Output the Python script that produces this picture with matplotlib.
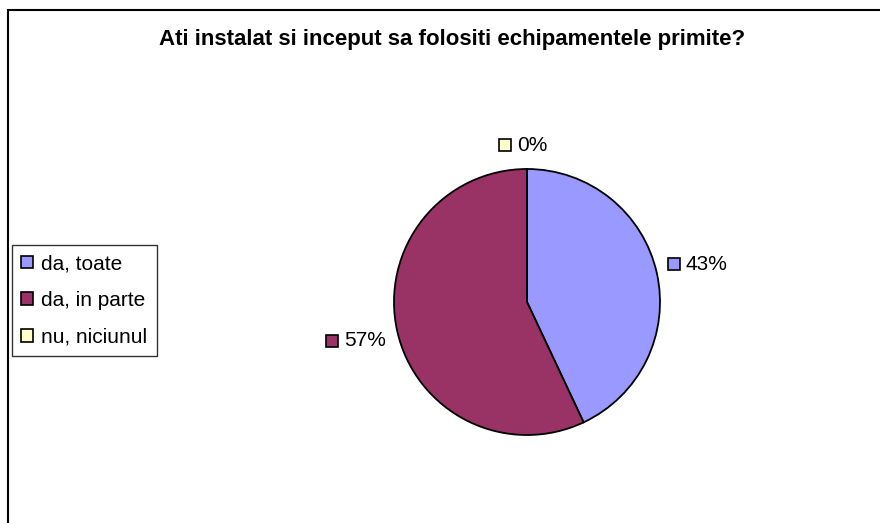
import numpy as np
import matplotlib.pyplot as plt
from matplotlib.patches import Patch, Rectangle

plt.rcParams['font.family'] = ['Liberation Sans', 'DejaVu Sans']

title = 'Ati instalat si inceput sa folositi echipamentele primite?'
categories = ['da, toate', 'da, in parte', 'nu, niciunul']
values = [43, 57, 0]
colors = ['#9999FF', '#993366', '#FFFFCC']
label_dist = [1.30, 1.33, 1.18]

W, H = 880, 523
fig = plt.figure(figsize=(W / 100, H / 100), dpi=100)

# outer chart border (clipped on right and bottom like the original)
fig.add_artist(Rectangle((8 / W, -0.1), 2, 1 - 10 / H + 0.1, transform=fig.transFigure,
                         fill=False, edgecolor='black', linewidth=1.5))

fig.text(452 / W, 1 - 40 / H, title, ha='center', va='center',
         fontsize=16, fontweight='bold')

# pie axes, centre (527, 302) px, radius 133 px
cx, cy, r = 527, 302, 133
ax = fig.add_axes([(cx - r) / W, (H - cy - r) / H, 2 * r / W, 2 * r / H])
wedges, _ = ax.pie(values, colors=colors, startangle=90, counterclock=False,
                   wedgeprops=dict(edgecolor='black', linewidth=1.3))
ax.set_xlim(-1, 1)
ax.set_ylim(-1, 1)
ax.set_aspect('equal')

# data labels with legend key squares
total = sum(values)
start = 90.0
for v, c, d in zip(values, colors, label_dist):
    sweep = v / total * 360
    mid = np.deg2rad(start - sweep / 2)
    start -= sweep
    x, y = d * np.cos(mid), d * np.sin(mid)
    ax.plot(x - 0.165, y, marker='s', markersize=8, markerfacecolor=c,
            markeredgecolor='black', markeredgewidth=1.2, clip_on=False)
    ax.text(x - 0.075, y, f'{v}%', ha='left', va='center', fontsize=15, clip_on=False)

handles = [Patch(facecolor=c, edgecolor='black', linewidth=1.2) for c in colors]
leg = fig.legend(handles, categories, loc='upper left',
                 bbox_to_anchor=(12 / W, 1 - 245 / H), fontsize=15,
                 handlelength=0.55, handleheight=0.55, handletextpad=0.4,
                 labelspacing=0.85, borderpad=0.45, borderaxespad=0,
                 fancybox=False, frameon=True)
leg.get_frame().set_edgecolor('black')
leg.get_frame().set_linewidth(1.0)

fig.savefig('out.png', dpi=100)
